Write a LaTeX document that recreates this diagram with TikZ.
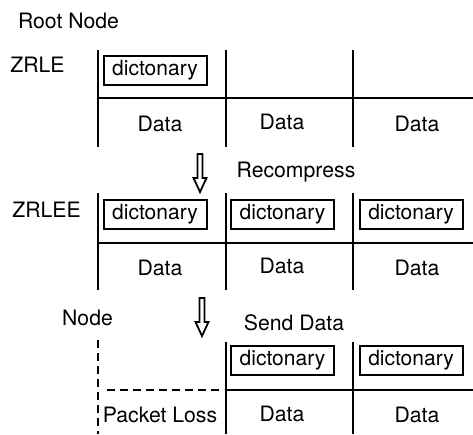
\documentclass[tikz,border=0pt]{standalone}
\usepackage{fontspec}
\setmainfont{TeX Gyre Heros}
\begin{document}
\begin{tikzpicture}[x=1pt,y=-1pt,
  lbl/.style={inner sep=0pt, anchor=base, font=\fontsize{21.2}{24}\selectfont},
  dict/.style={draw, line width=2pt, minimum width=103pt, minimum height=29pt, inner sep=0pt, font=\fontsize{21}{24}\selectfont},
  rule/.style={line width=2pt},
  dashrule/.style={line width=2pt, dash pattern=on 8pt off 5pt},
  hollow/.style={line width=1.8pt, line join=miter}]
\useasboundingbox (0,0) rectangle (473,434);

% ---------- row 1 : ZRLE ----------
\node[lbl] (root) at (68.5,28.7) {Root Node};
\node[lbl] (zrle) at (37.5,72) {ZRLE};
\coordinate (r1a) at (98,50);  \coordinate (r1ab) at (98,147);
\coordinate (r1b) at (226,50); \coordinate (r1bb) at (226,147);
\coordinate (r1c) at (353,50); \coordinate (r1cb) at (353,147);
\coordinate (h1l) at (98,98);  \coordinate (h1r) at (473,98);
\draw[rule] (r1a) -- (r1ab);
\draw[rule] (r1b) -- (r1bb);
\draw[rule] (r1c) -- (r1cb);
\draw[rule] (h1l) -- (h1r);
\node[dict] (d11) at (155,70.5) {dictonary};
\node[lbl] (a11) at (160,131.5) {Data};
\node[lbl] (a12) at (282,129.5) {Data};
\node[lbl] (a13) at (417,131.5) {Data};

% ---------- arrow 1 ----------
\draw[hollow] (197.5,154) coordinate (ar1) -- (202.5,154) -- (202.5,178) -- (206.5,178)
  -- (200,192) -- (193.5,178) -- (197.5,178) -- cycle;
\node[lbl] (recomp) at (296,177) {Recompress};

% ---------- row 2 : ZRLEE ----------
\node[lbl] (zrlee) at (46.5,217) {ZRLEE};
\coordinate (r2a) at (98,193);  \coordinate (r2ab) at (98,290);
\coordinate (r2b) at (226,193); \coordinate (r2bb) at (226,290);
\coordinate (r2c) at (353,193); \coordinate (r2cb) at (353,290);
\coordinate (h2l) at (98,243);  \coordinate (h2r) at (473,243);
\draw[rule] (r2a) -- (r2ab);
\draw[rule] (r2b) -- (r2bb);
\draw[rule] (r2c) -- (r2cb);
\draw[rule] (h2l) -- (h2r);
\node[dict] (d21) at (155,214) {dictonary};
\node[dict] (d22) at (282.5,214) {dictonary};
\node[dict] (d23) at (411,214) {dictonary};
\node[lbl] (a21) at (160,275) {Data};
\node[lbl] (a22) at (282,273) {Data};
\node[lbl] (a23) at (417,275) {Data};

% ---------- arrow 2 ----------
\draw[hollow] (199.5,298) coordinate (ar2) -- (204.5,298) -- (204.5,322) -- (208.5,322)
  -- (202,336) -- (195.5,322) -- (199.5,322) -- cycle;
\node[lbl] (nodelbl) at (87.5,325) {Node};
\node[lbl] (send) at (294,330) {Send Data};

% ---------- row 3 : packet loss ----------
\coordinate (r3a) at (98,340);  \coordinate (r3ab) at (98,434);
\coordinate (r3b) at (226,342); \coordinate (r3bb) at (226,434);
\coordinate (r3c) at (353,342); \coordinate (r3cb) at (353,434);
\coordinate (h3d) at (107,390); \coordinate (h3m) at (224,390);
\coordinate (h3l) at (226,390); \coordinate (h3r) at (473,390);
\draw[dashrule] (r3a) -- (r3ab);
\draw[dashrule] (h3d) -- (h3m);
\draw[rule] (r3b) -- (r3bb);
\draw[rule] (r3c) -- (r3cb);
\draw[rule] (h3l) -- (h3r);
\node[dict] (d32) at (282.5,360.5) {dictonary};
\node[dict] (d33) at (411,360.5) {dictonary};
\node[lbl] (loss) at (160,422.5) {Packet Loss};
\node[lbl] (a32) at (282,421) {Data};
\node[lbl] (a33) at (417,422) {Data};
\end{tikzpicture}
\end{document}
